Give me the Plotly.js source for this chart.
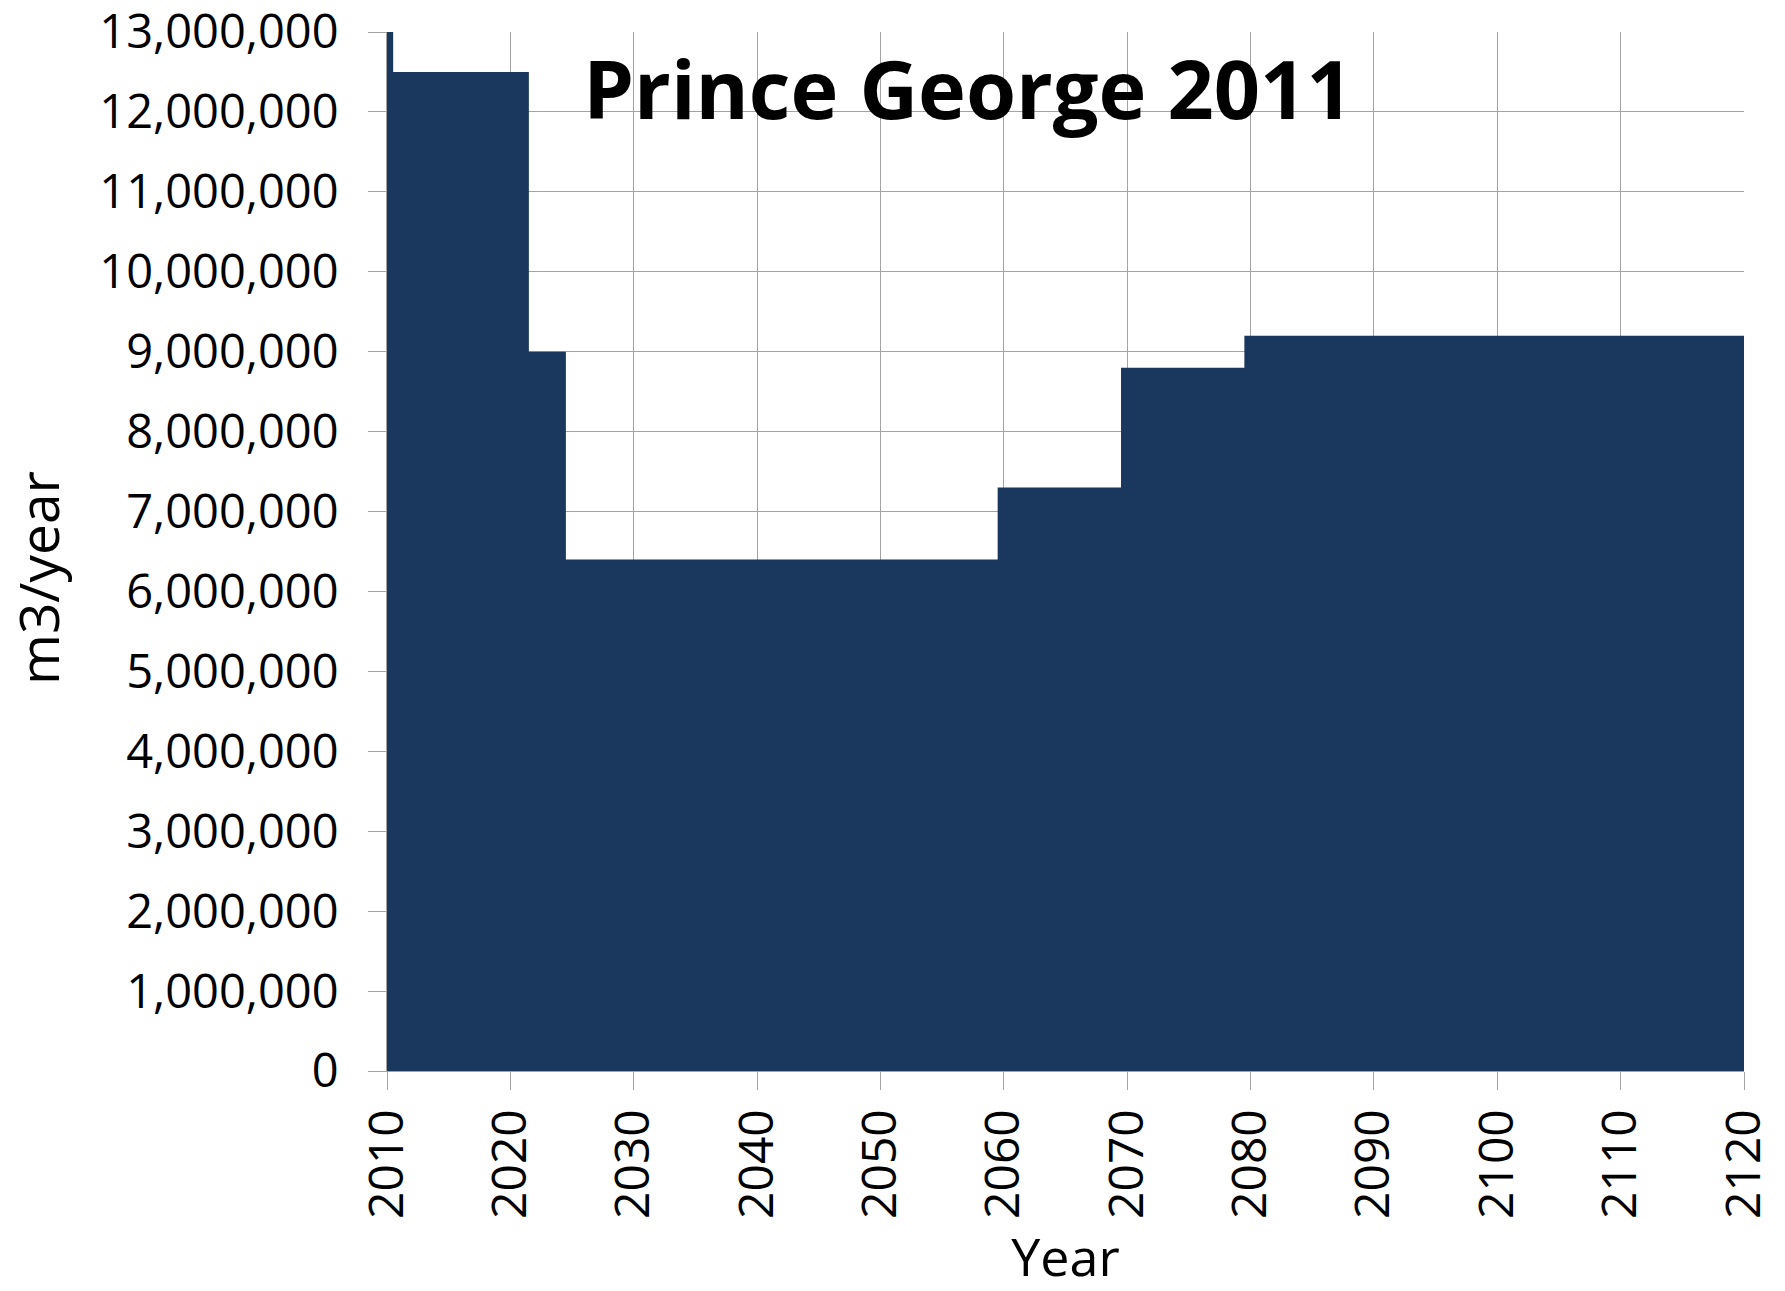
<!DOCTYPE html>
<html>
<head>
<meta charset="utf-8">
<script src="https://cdn.plot.ly/plotly-3.0.1.min.js"></script>
<style>
  html, body { margin: 0; padding: 0; background: #ffffff; }
  #chart { width: 1785px; height: 1291px; }
</style>
</head>
<body>
<div id="chart"></div>
<script>
// Harvest level periods (inclusive year ranges)
const periodStart = [2010, 2011, 2022, 2025, 2060, 2070, 2080];
const periodEnd   = [2010, 2021, 2024, 2059, 2069, 2079, 2120];
const harvestM3   = [13000000, 12500000, 9000000, 6400000, 7300000, 8800000, 9200000];

const chartTitle = 'Prince George 2011';
const xTitle = 'Year';
const yTitle = 'm3/year';

// yearly table built from the periods
const years = [];
const values = [];
for (let i = 0; i < periodStart.length; i++) {
  for (let y = periodStart[i]; y <= periodEnd[i]; y++) {
    years.push(y);
    values.push(harvestM3[i]);
  }
}

const fillColor = '#1a375e';
const gridColor = '#a3a3a3';
const fontFam = '"Open Sans", "Liberation Sans", sans-serif';

const trace = {
  type: 'scatter',
  mode: 'lines',
  x: years,
  y: values,
  line: { shape: 'hvh', color: fillColor, width: 0 },
  fill: 'tozeroy',
  fillcolor: fillColor,
  hoverinfo: 'x+y',
  showlegend: false,
  cliponaxis: true
};

const layout = {
  width: 1785,
  height: 1291,
  margin: { l: 387, r: 41, t: 32, b: 220, pad: 0 },
  paper_bgcolor: '#ffffff',
  plot_bgcolor: '#ffffff',
  font: { family: fontFam, color: '#000000' },
  showlegend: false,
  title: {
    text: '<b>' + chartTitle + '</b>',
    font: { family: fontFam, size: 81, color: '#000000' },
    xref: 'container', yref: 'container',
    x: 968 / 1785, xanchor: 'center',
    y: 1 - 91 / 1291, yanchor: 'middle'
  },
  xaxis: {
    range: [2010, 2120],
    tick0: 2010,
    dtick: 10,
    tickangle: -90,
    showgrid: true,
    gridcolor: gridColor,
    gridwidth: 1,
    showline: true,
    linecolor: gridColor,
    linewidth: 1,
    ticks: 'outside',
    ticklen: 18,
    tickcolor: gridColor,
    tickwidth: 1,
    zeroline: false,
    tickfont: { family: fontFam, size: 48, color: '#000000' },
    ticklabelstandoff: 0,
    ticklabeloverflow: 'allow',
    title: { text: xTitle, font: { family: fontFam, size: 52, color: '#000000' }, standoff: 28 },
    automargin: false,
    fixedrange: true
  },
  yaxis: {
    range: [0, 13000100],
    tick0: 0,
    dtick: 1000000,
    tickformat: ',d',
    showgrid: true,
    gridcolor: gridColor,
    gridwidth: 1,
    showline: true,
    linecolor: gridColor,
    linewidth: 1,
    ticks: 'outside',
    ticklen: 18,
    tickcolor: gridColor,
    tickwidth: 1,
    zeroline: false,
    tickfont: { family: fontFam, size: 47, color: '#000000' },
    ticklabelstandoff: 20,
    ticklabeloverflow: 'allow',
    automargin: false,
    fixedrange: true
  },
  annotations: [{
    text: yTitle,
    textangle: -90,
    font: { family: fontFam, size: 55, color: '#000000' },
    xref: 'paper', yref: 'paper',
    x: (37 - 387) / 1357, xanchor: 'center',
    y: (1071 - 578) / 1039, yanchor: 'middle',
    showarrow: false
  }]
};

Plotly.newPlot('chart', [trace], layout, { displayModeBar: false, staticPlot: true });
</script>
</body>
</html>
